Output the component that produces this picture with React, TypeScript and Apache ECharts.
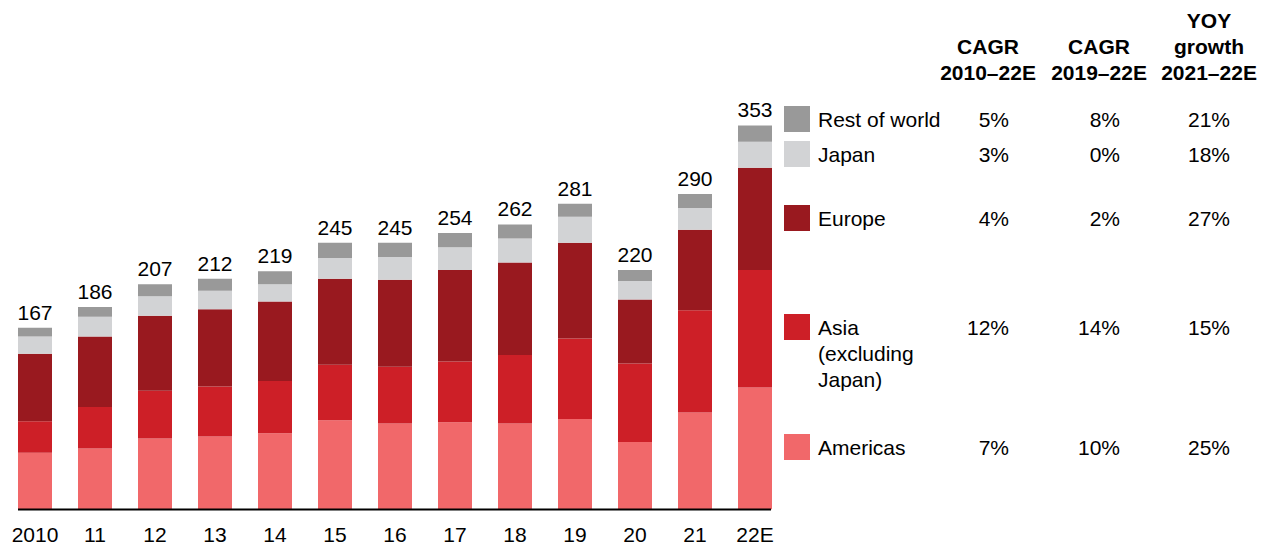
import React, { useEffect, useRef } from "react";
import * as echarts from "echarts";

const categories = ["2010", "11", "12", "13", "14", "15", "16", "17", "18", "19", "20", "21", "22E"];
const americas = [52, 56, 65, 67, 70, 82, 79, 80, 79, 83, 62, 89, 112];
const asia = [29, 38, 44, 46, 48, 51, 52, 56, 63, 74, 72, 94, 108];
const europe = [62, 65, 69, 71, 73, 79, 80, 84, 85, 88, 59, 74, 94];
const japan = [16, 18, 18, 17, 16, 19, 21, 21, 22, 24, 17, 20, 24];
const restOfWorld = [8, 9, 11, 11, 12, 14, 13, 13, 13, 12, 10, 13, 15];
const totals = [167, 186, 207, 212, 219, 245, 245, 254, 262, 281, 220, 290, 353];

const seriesNames = ["Americas", "Asia (excluding Japan)", "Europe", "Japan", "Rest of world"];
const seriesColors = ["#F1686A", "#CD1F27", "#99191F", "#D2D3D5", "#999999"];

const legendLabels = ["Rest of world", "Japan", "Europe", "Asia\n(excluding\nJapan)", "Americas"];
const legendColors = ["#999999", "#D2D3D5", "#99191F", "#CD1F27", "#F1686A"];
const cagr2010 = ["5%", "3%", "4%", "12%", "7%"];
const cagr2019 = ["8%", "0%", "2%", "14%", "10%"];
const yoy2021 = ["21%", "18%", "27%", "15%", "25%"];
const headers = [["CAGR", "2010–22E"], ["CAGR", "2019–22E"], ["YOY", "growth", "2021–22E"]];

const FONT = '"Liberation Sans", Arial, Helvetica, sans-serif';

export default function App() {
  const ref = useRef<HTMLDivElement>(null);
  useEffect(() => {
    if (!ref.current) return;
    const chart = echarts.init(ref.current, undefined, { renderer: "svg" });
    const data = [americas, asia, europe, japan, restOfWorld];

    const rowY = [119, 154, 218, 327, 447];
    const colX = [1009, 1120, 1230];
    const headerX = [988, 1099, 1209];
    const lineH = 26;

    const graphics: any[] = [];
    graphics.push({
      type: "line",
      shape: { x1: 18, y1: 509.5, x2: 771, y2: 509.5 },
      style: { stroke: "#000", lineWidth: 2 },
      z: 10,
    });
    headers.forEach((lines, c) => {
      lines.forEach((t, j) => {
        const y = 72 - (lines.length - 1 - j) * lineH;
        graphics.push({
          type: "text",
          x: headerX[c],
          y,
          style: {
            text: t,
            font: `bold 21px ${FONT}`,
            fill: "#000",
            textAlign: "center",
            textVerticalAlign: "middle",
          },
        });
      });
    });
    legendLabels.forEach((lab, i) => {
      graphics.push({
        type: "rect",
        shape: { x: 784, y: rowY[i] - 13, width: 26, height: 26 },
        style: { fill: legendColors[i] },
      });
      const lines = lab.split("\n");
      lines.forEach((t, j) => {
        graphics.push({
          type: "text",
          x: 818,
          y: rowY[i] + j * lineH,
          style: {
            text: t,
            font: `21px ${FONT}`,
            fill: "#000",
            textAlign: "left",
            textVerticalAlign: "middle",
          },
        });
      });
      [cagr2010, cagr2019, yoy2021].forEach((col, c) => {
        graphics.push({
          type: "text",
          x: colX[c],
          y: rowY[i],
          style: {
            text: col[i],
            font: `21px ${FONT}`,
            fill: "#000",
            textAlign: "right",
            textVerticalAlign: "middle",
          },
        });
      });
    });

    chart.setOption({
      animation: false,
      textStyle: { fontFamily: FONT },
      grid: { left: 5, width: 780, top: 74.3, bottom: 38.7, containLabel: false },
      xAxis: {
        type: "category",
        data: categories,
        axisLine: { show: false },
        axisTick: { show: false },
        axisLabel: { color: "#000", fontSize: 21, fontFamily: FONT, margin: 15, interval: 0 },
      },
      yAxis: {
        type: "value",
        min: 0,
        max: 400,
        show: false,
        splitLine: { show: false },
      },
      series: data.map((d, i) => ({
        name: seriesNames[i],
        type: "bar",
        stack: "total",
        data: d,
        barWidth: 34,
        itemStyle: { color: seriesColors[i] },
        label:
          i === data.length - 1
            ? {
                show: true,
                position: "top",
                distance: 5,
                color: "#000",
                fontSize: 21,
                fontFamily: FONT,
                formatter: (p: any) => String(totals[p.dataIndex]),
              }
            : { show: false },
      })),
      graphic: graphics,
    });
    return () => chart.dispose();
  }, []);
  return (
    <div
      ref={ref}
      style={{ position: "fixed", left: 0, top: 0, width: 1270, height: 548, background: "#fff" }}
    />
  );
}
